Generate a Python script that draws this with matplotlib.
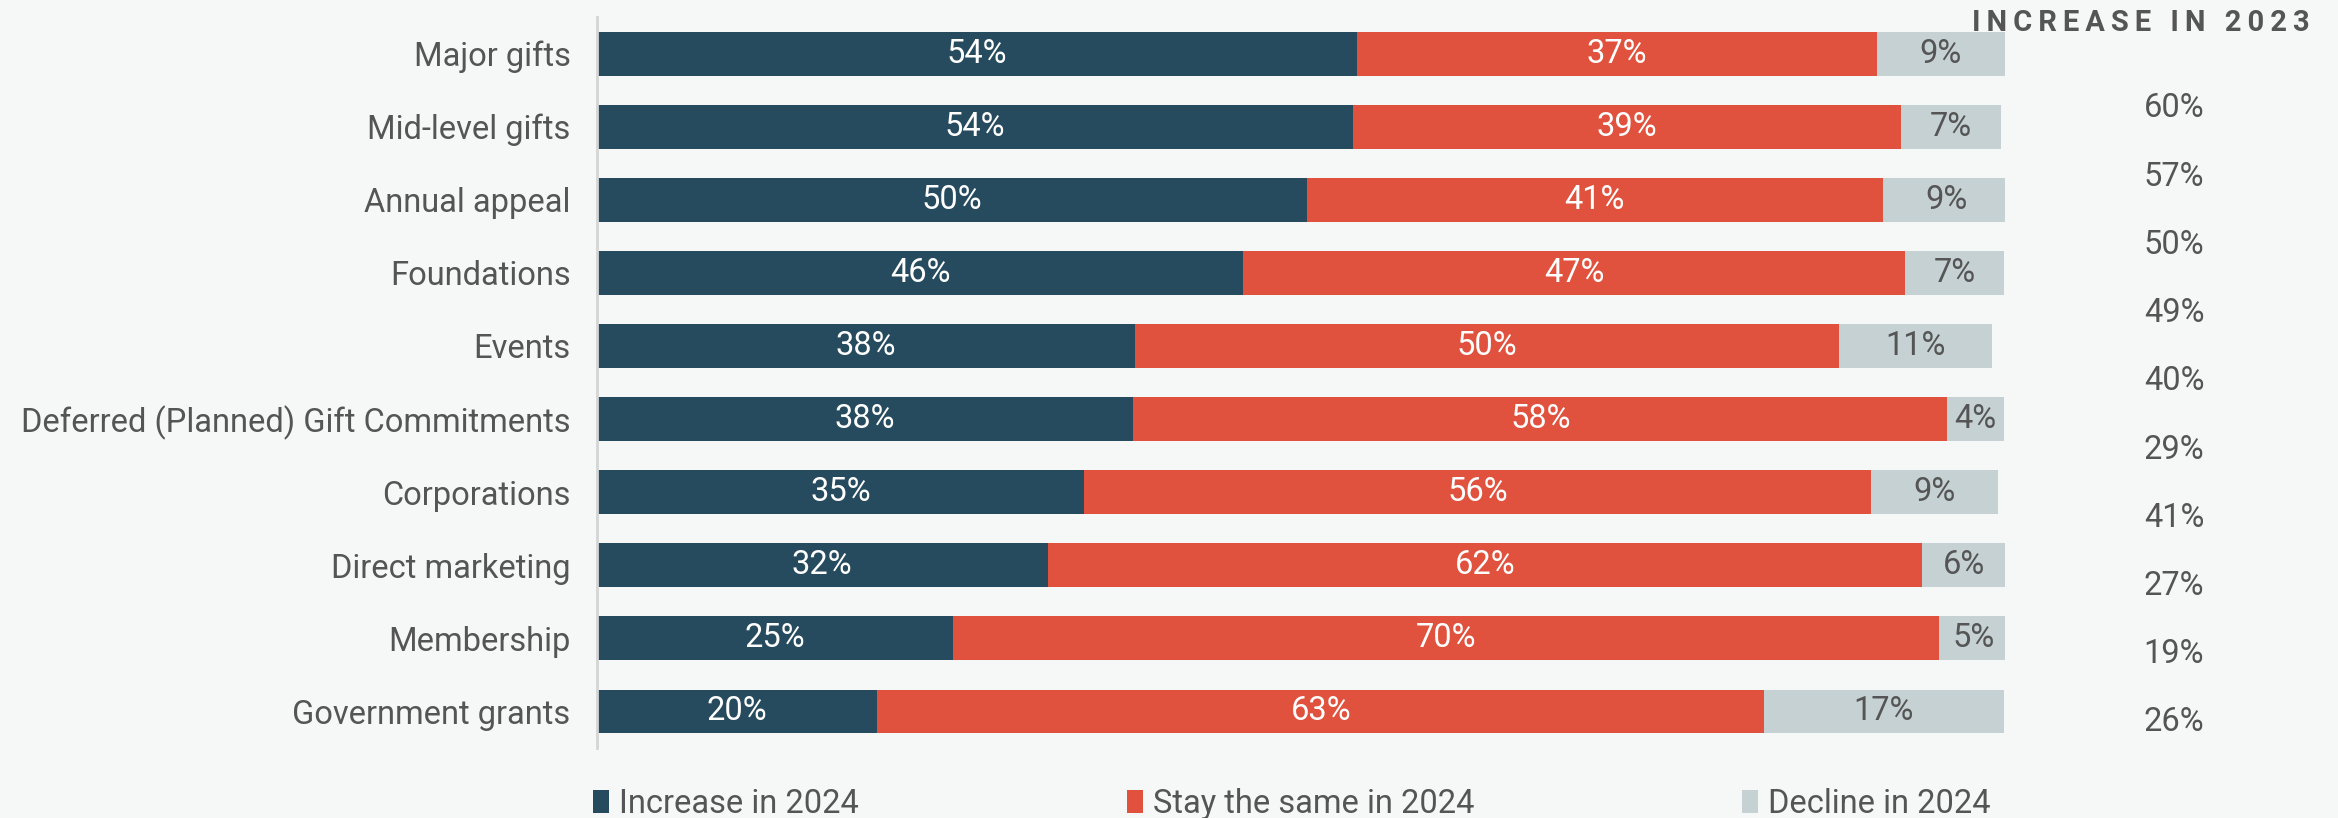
import matplotlib
matplotlib.use("Agg")
import matplotlib.pyplot as plt
from matplotlib.patches import Patch

plt.rcParams["font.family"] = ["Roboto", "DejaVu Sans"]

categories = [
    "Major gifts",
    "Mid-level gifts",
    "Annual appeal",
    "Foundations",
    "Events",
    "Deferred (Planned) Gift Commitments",
    "Corporations",
    "Direct marketing",
    "Membership",
    "Government grants",
]
increase_2024 = [54.0, 53.7, 50.4, 45.9, 38.2, 38.1, 34.6, 32.0, 25.3, 19.9]
same_2024 = [36.9, 38.9, 40.9, 47.0, 50.0, 57.8, 55.9, 62.1, 70.0, 63.0]
decline_2024 = [9.1, 7.1, 9.1, 7.0, 10.9, 4.0, 9.0, 5.9, 5.0, 17.0]
increase_2023 = [60, 57, 50, 49, 40, 29, 41, 27, 19, 26]
series_names = ["Increase in 2024", "Stay the same in 2024", "Decline in 2024"]

BG = "#f6f8f7"
NAVY = "#264b5f"
RED = "#e0523d"
GREY = "#c6d1d3"
TEXT = "#555555"
FS = 23.5

fig = plt.figure(figsize=(23.38, 8.18), dpi=100, facecolor=BG)
ax = fig.add_axes([0.2553, 0.0856, 0.6023, 0.8935])
ax.set_facecolor(BG)

y = list(range(len(categories)))
lefts = [0.0] * len(categories)
for values, color, txt_color in [
    (increase_2024, NAVY, "white"),
    (same_2024, RED, "white"),
    (decline_2024, GREY, TEXT),
]:
    bars = ax.barh(y, values, left=lefts, height=0.6, color=color, edgecolor="none")
    for bar, v in zip(bars, values):
        ax.text(bar.get_x() + bar.get_width() / 2, bar.get_y() + bar.get_height() / 2,
                f"{round(v)}%", ha="center", va="center", color=txt_color, fontsize=FS)
    lefts = [l + v for l, v in zip(lefts, values)]

ax.set_xlim(0, 100)
ax.set_ylim(len(categories) - 0.5, -0.5)
ax.set_yticks(y)
ax.set_yticklabels(categories, fontsize=FS, color=TEXT)
ax.tick_params(axis="y", length=0, pad=19)
ax.set_xticks([])
for side in ["top", "right", "bottom"]:
    ax.spines[side].set_visible(False)
ax.spines["left"].set_color("#d4d6d6")
ax.spines["left"].set_linewidth(2)

# 2023 column sits on its own spacing, offset from the bars
step = 8.4 / (len(increase_2023) - 1)
for i, v in enumerate(increase_2023):
    ax.text(112.0, 0.75 + i * step, f"{v}%", ha="center", va="center",
            fontsize=FS, color=TEXT, clip_on=False)

# letter-spaced header
header = "\u2009".join("INCREASE IN 2023")
fig.text(0.988, 0.972, header, ha="right", va="center",
         fontsize=21, fontweight="bold", color=TEXT)

handles = [Patch(facecolor=c, edgecolor="none") for c in (NAVY, RED, GREY)]
fig.legend(handles, series_names, loc="center left", ncol=3, mode="expand",
           bbox_to_anchor=(0.248, 0.017, 0.609, 0.0), frameon=False, fontsize=FS,
           handlelength=0.5, handleheight=0.7, handletextpad=0.3, labelcolor=TEXT,
           borderaxespad=0)

fig.savefig("out.png", dpi=100, facecolor=BG)
